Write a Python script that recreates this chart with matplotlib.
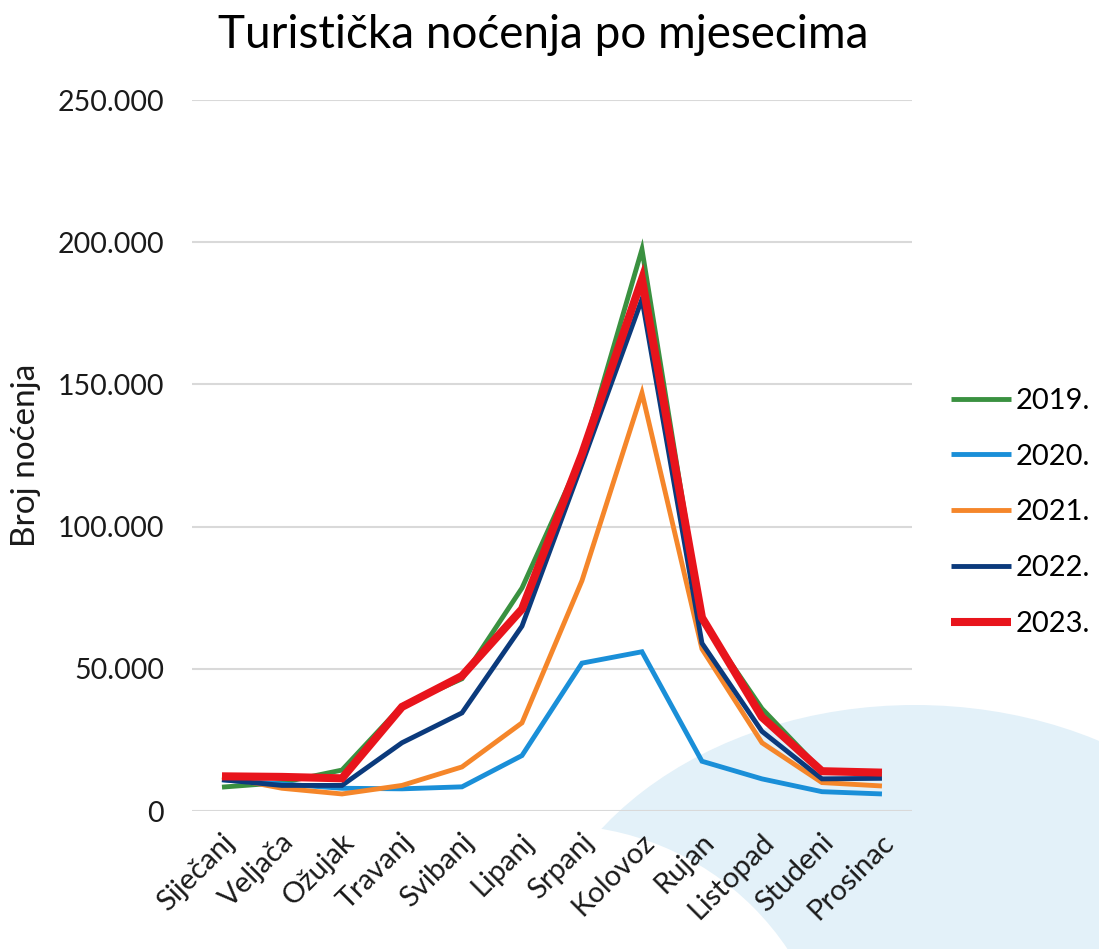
import matplotlib
matplotlib.use("Agg")
import matplotlib.pyplot as plt
from matplotlib.patches import Ellipse, Circle
from matplotlib.ticker import FuncFormatter
import matplotlib.transforms as mtransforms

plt.rcParams["font.family"] = ["Lato", "DejaVu Sans"]

months = ["Siječanj", "Veljača", "Ožujak", "Travanj", "Svibanj", "Lipanj",
          "Srpanj", "Kolovoz", "Rujan", "Listopad", "Studeni", "Prosinac"]
years = ["2019.", "2020.", "2021.", "2022.", "2023."]

n2019 = [8400, 10000, 14400, 37000, 46500, 78400, 125000, 197500, 67000, 36000, 14000, 13000]
n2020 = [11000, 9500, 8000, 7800, 8500, 19500, 52000, 56000, 17500, 11300, 6800, 6000]
n2021 = [12000, 8000, 6000, 9000, 15500, 31000, 81000, 147000, 57000, 24000, 10000, 8800]
n2022 = [11000, 9000, 9000, 24000, 34500, 65000, 122000, 180000, 59000, 28000, 11300, 11500]
n2023 = [12200, 12000, 11500, 36600, 47500, 71000, 125500, 187000, 68000, 33000, 14000, 13500]
series = [n2019, n2020, n2021, n2022, n2023]

colors = ["#3a9140", "#1a8fd8", "#f5862a", "#0b3a7c", "#e8141c"]
widths = [3.5, 3.5, 3.5, 3.5, 5.8]

fig = plt.figure(figsize=(10.99, 9.49), dpi=100)

# decorative background shape
bg = fig.add_axes([0, 0, 1, 1], zorder=0)
bg.set_xlim(0, 1099)
bg.set_ylim(949, 0)
bg.axis("off")
bg.add_patch(Ellipse((915, 1000), 770, 590, color="#e3f1f9", lw=0))
bg.add_patch(Circle((555, 1105), 280, color="white", lw=0))

ax = fig.add_axes([0.1747, 0.1454, 0.8298 - 0.1747, 0.8946 - 0.1454], zorder=1)
ax.patch.set_alpha(0)

x = list(range(len(months)))
for s, c, w, lab in zip(series, colors, widths, years):
    ax.plot(x, s, color=c, lw=w, label=lab, solid_capstyle="butt", solid_joinstyle="miter")

ax.set_xlim(-0.5, 11.5)
ax.set_ylim(0, 250000)
ax.set_yticks([0, 50000, 100000, 150000, 200000, 250000])
ax.yaxis.set_major_formatter(FuncFormatter(lambda v, p: "0" if v == 0 else f"{int(v):,}".replace(",", ".")))
ax.grid(axis="y", color="#d9d9d9", lw=1.5)
ax.set_axisbelow(True)
for sp in ax.spines.values():
    sp.set_visible(False)
ax.tick_params(axis="both", length=0, labelsize=20.5, colors="#1a1a1a")
ax.tick_params(axis="y", pad=20)

ax.set_xticks(x)
ax.set_xticklabels(months, rotation=45, ha="right", va="center", rotation_mode="anchor", fontsize=21)
off = mtransforms.ScaledTranslation(8 / 100, -22 / 100, fig.dpi_scale_trans)
for t in ax.get_xticklabels():
    t.set_transform(t.get_transform() + off)

ax.set_ylabel("Broj noćenja", fontsize=24, color="#1a1a1a", labelpad=12)
fig.text(0.494, 0.963, "Turistička noćenja po mjesecima", ha="center", va="center", fontsize=33)

ax.legend(loc="center left", bbox_to_anchor=(1.018, 0.42), frameon=False, fontsize=21,
          handlelength=2.05, labelspacing=1.02, handletextpad=0.15)

fig.savefig("out.png", dpi=100)
